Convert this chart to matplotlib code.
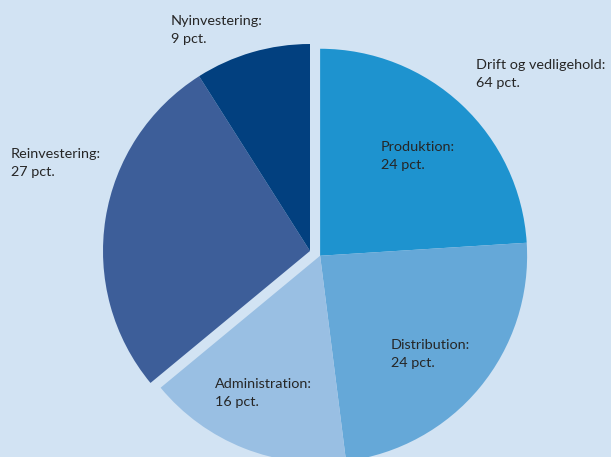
import numpy as np
import matplotlib.pyplot as plt

# slice order: clockwise from 12 o'clock
labels = ["Produktion", "Distribution", "Administration", "Reinvestering", "Nyinvestering"]
shares = [24, 24, 16, 27, 9]
colors = ["#1e93cf", "#65a8d8", "#99bfe3", "#3d5e99", "#02407f"]
in_drift = [True, True, True, False, False]
drift_label = "Drift og vedligehold"
drift_share = sum(s for s, d in zip(shares, in_drift) if d)

bg = "#d2e3f3"
W, H = 611, 457
center = (310, H - 251)
radius = 207
pull = 0.054

fig = plt.figure(figsize=(W / 100, H / 100), dpi=100)
fig.patch.set_facecolor(bg)
ax = fig.add_axes([0, 0, 1, 1])
ax.set_facecolor(bg)

wedges, _ = ax.pie(shares, colors=colors, startangle=90, counterclock=False,
                   radius=radius, center=center, frame=True,
                   wedgeprops=dict(linewidth=0))

# pull the whole drift group out along its mid angle
mid = 90 - 360 * drift_share / sum(shares) / 2
dx = radius * pull * np.cos(np.radians(mid))
dy = radius * pull * np.sin(np.radians(mid))
for w, d in zip(wedges, in_drift):
    if d:
        w.set_center((center[0] + dx, center[1] + dy))

ax.set_xlim(0, W)
ax.set_ylim(0, H)
ax.set_aspect("equal")
ax.axis("off")

font = dict(family="Lato", fontsize=10.4, color="#262626", ha="left", va="top",
            linespacing=1.6)

def label(x, y, name, val):
    ax.text(x, H - y, f"{name}:\n{val} pct.", **font)

label(171, 15, labels[4], shares[4])
label(476, 59, drift_label, drift_share)
label(11, 148, labels[3], shares[3])
label(381, 141, labels[0], shares[0])
label(391, 339, labels[1], shares[1])
label(215, 378, labels[2], shares[2])

fig.savefig("out.png", dpi=100, facecolor=bg)
